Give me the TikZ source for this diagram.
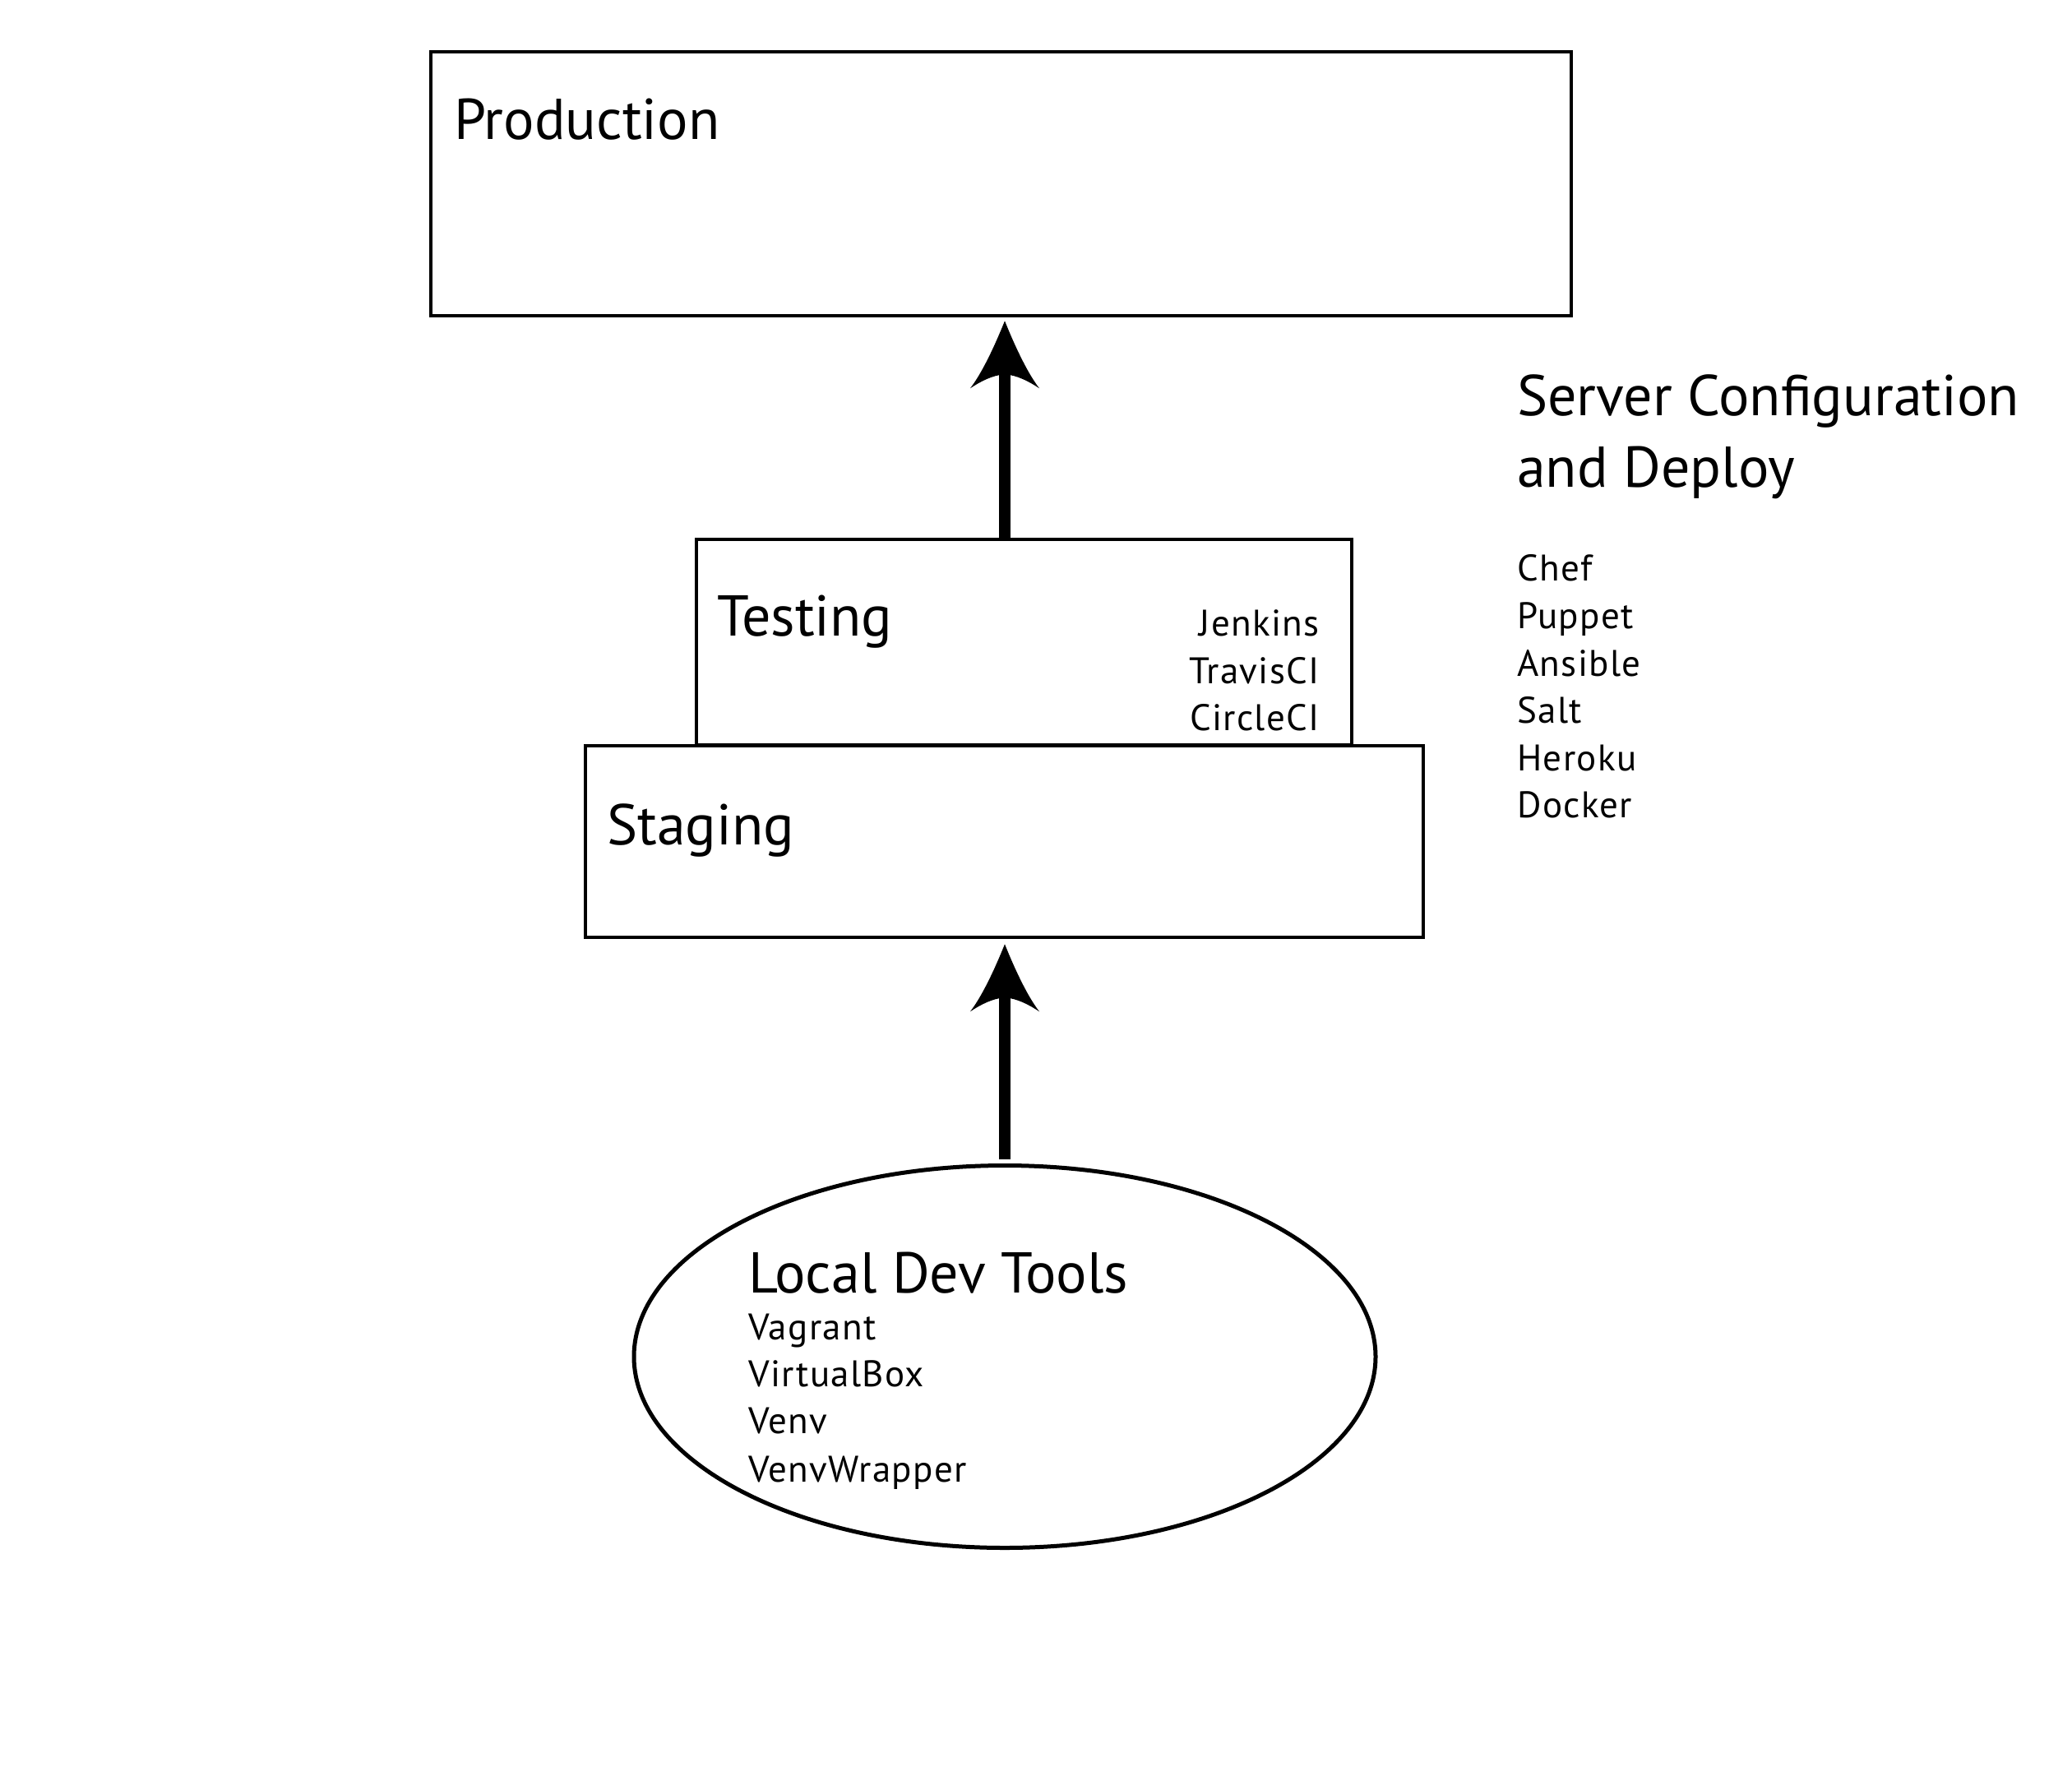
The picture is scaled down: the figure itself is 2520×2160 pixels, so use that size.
\documentclass[tikz,border=0pt]{standalone}
\usepackage{fontspec}
\setmainfont{PT Sans}
\newfontfamily\smallfam{PT Sans}[LetterSpace=3]
\usetikzlibrary{shapes.geometric,calc}
\begin{document}
\begin{tikzpicture}[x=1pt,y=-1pt,
  box/.style={draw,line width=4.5pt,inner sep=0pt,rectangle},
  big/.style={anchor=base west,inner sep=0pt,font=\fontsize{70}{84}\selectfont},
  small/.style={anchor=base west,inner sep=0pt,font=\smallfam\fontsize{45}{54}\selectfont},
  smallr/.style={anchor=base east,inner sep=0pt,font=\smallfam\fontsize{45}{54}\selectfont},
  shaft/.style={line width=14pt,line cap=butt},
  arrowhead/.style={fill=black}]
\useasboundingbox (0,0) rectangle (2520,2160);
\fill[white] (0,0) rectangle (2520,2160);
% boxes
\node[box,minimum width=1387pt,minimum height=321pt] (prod) at (1217.5,223.5) {};
\node[box,minimum width=797pt,minimum height=250pt] (testing) at (1245.5,781) {};
\node[box,minimum width=1019pt,minimum height=233pt] (staging) at (1221.5,1023.5) {};
\node[draw,ellipse,line width=5pt,inner sep=0pt,minimum width=902pt,minimum height=465pt] (local) at (1222,1650) {};
% labels
\node[big] (prodlabel) at (552,169) {Production};
\node[big] (testlabel) at (872,773) {Testing};
\node[big] (staglabel) at (738,1027) {Staging};
\node[big] (locallabel) at (910,1572) {Local Dev Tools};
\node[big] (srv1) at (1845,505) {Server Configuration};
\node[big] (srv2) at (1845,592) {and Deploy};
% testing tools
\node[smallr] (jenkins) at (1605,773) {Jenkins};
\node[smallr] (travis) at (1605,831) {TravisCI};
\node[smallr] (circle) at (1605,888) {CircleCI};
% server tools
\node[small] (chef) at (1845,706) {Chef};
\node[small] (puppet) at (1845,764) {Puppet};
\node[small] (ansible) at (1845,822) {Ansible};
\node[small] (salt) at (1845,879) {Salt};
\node[small] (heroku) at (1845,937) {Heroku};
\node[small] (docker) at (1845,994) {Docker};
% local tools
\node[small] (vagrant) at (910,1629) {Vagrant};
\node[small] (vbox) at (910,1686) {VirtualBox};
\node[small] (venv) at (910,1743) {Venv};
\node[small] (venvw) at (910,1802) {VenvWrapper};
% arrows
\coordinate (tip1) at ($(prod.south -| local.center)+(0,4)$);
\coordinate (tip2) at ($(staging.south -| local.center)+(0,6)$);
\draw[shaft,shorten >=60pt] (testing.north -| local.center) -- (tip1);
\draw[shaft,shorten <=5pt,shorten >=60pt] (local.north) -- (tip2);
\foreach \t in {tip1,tip2}{
  \fill[arrowhead,shift={(\t)}] (0,0) .. controls (8,20) and (25,60) .. (42,82)
    .. controls (30,74) and (15,66) .. (0,65)
    .. controls (-15,66) and (-30,74) .. (-42,82)
    .. controls (-25,60) and (-8,20) .. (0,0) -- cycle;
}
\end{tikzpicture}
\end{document}
